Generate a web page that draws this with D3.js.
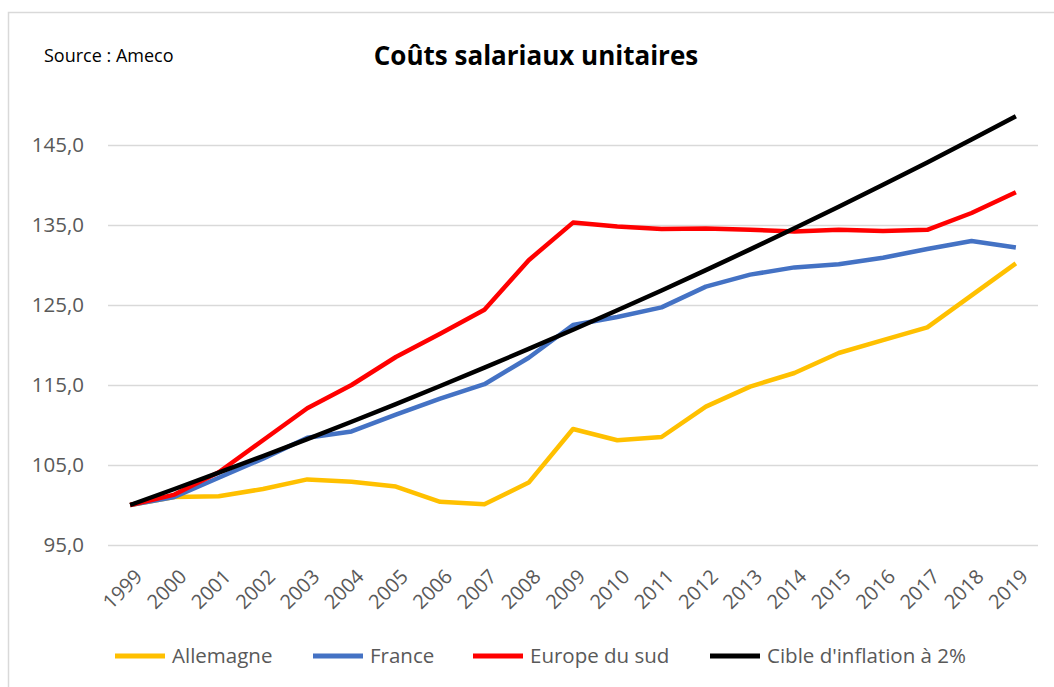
<!DOCTYPE html>
<html>
<head>
<meta charset="utf-8">
<script src="https://cdn.jsdelivr.net/npm/d3@7"></script>
<style>
  body { margin: 0; background: #fff; }
  svg { display: block; }
</style>
</head>
<body>
<div id="chart"></div>
<script>
const years = ['1999', '2000', '2001', '2002', '2003', '2004', '2005', '2006', '2007', '2008', '2009',
  '2010', '2011', '2012', '2013', '2014', '2015', '2016', '2017', '2018', '2019'];
const allemagne = [100, 101.0, 101.1, 102.0, 103.2, 102.9, 102.3, 100.4, 100.1, 102.8, 109.5,
  108.1, 108.5, 112.3, 114.8, 116.5, 119.0, 120.6, 122.2, 126.2, 130.2];
const france = [100, 101.0, 103.4, 105.8, 108.4, 109.2, 111.3, 113.3, 115.1, 118.4, 122.5,
  123.5, 124.7, 127.3, 128.8, 129.7, 130.1, 130.9, 132.0, 133.0, 132.2];
const europeSud = [100, 101.3, 104.1, 108.1, 112.1, 115.0, 118.5, 121.4, 124.4, 130.6, 135.3,
  134.8, 134.5, 134.55, 134.4, 134.2, 134.4, 134.25, 134.4, 136.5, 139.1];
const cible = [100, 102.0, 104.04, 106.12, 108.24, 110.41, 112.62, 114.87, 117.17, 119.51, 121.9,
  124.34, 126.82, 129.36, 131.95, 134.59, 137.28, 140.02, 142.82, 145.68, 148.59];
const yTicks = [95, 105, 115, 125, 135, 145];

const series = [
  { name: 'Allemagne', values: allemagne, color: '#FFC000' },
  { name: 'France', values: france, color: '#4472C4' },
  { name: 'Europe du sud', values: europeSud, color: '#FF0000' },
  { name: "Cible d'inflation à 2%", values: cible, color: '#000000' },
];

const W = 1054;
const H = 687;
const font = "'Open Sans', 'Noto Sans', sans-serif";
const textGrey = '#595959';

const svg = d3.select('#chart').append('svg')
  .attr('width', W)
  .attr('height', H);

// outer frame (right and bottom edges fall outside the picture)
svg.append('rect')
  .attr('x', 8.5).attr('y', 12.5)
  .attr('width', 1100).attr('height', 700)
  .attr('fill', 'none')
  .attr('stroke', '#d9d9d9')
  .attr('stroke-width', 1.5);

const x = d3.scalePoint()
  .domain(years)
  .range([108, 1038])
  .padding(0.5);

const y = d3.scaleLinear()
  .domain([95, 145])
  .range([545, 145]);

// y axis + gridlines
const yAxis = svg.append('g')
  .attr('transform', 'translate(108,0)')
  .call(d3.axisLeft(y)
    .tickValues(yTicks)
    .tickSize(-(1038 - 108))
    .tickPadding(24)
    .tickFormat((d) => d.toFixed(1).replace('.', ',')));
yAxis.select('.domain').remove();
yAxis.selectAll('line').attr('stroke', '#d9d9d9').attr('stroke-width', 1.5);
yAxis.selectAll('text')
  .attr('fill', textGrey)
  .style('font-family', font)
  .style('font-size', '20.5px');

// x axis
const xAxis = svg.append('g')
  .attr('transform', 'translate(0,545)')
  .call(d3.axisBottom(x).tickSize(0));
xAxis.select('.domain').remove();
xAxis.selectAll('text')
  .attr('fill', textGrey)
  .style('font-family', font)
  .style('font-size', '20px')
  .attr('text-anchor', 'end')
  .attr('dy', null)
  .attr('y', 0)
  .attr('transform', 'translate(13,33) rotate(-45)');

// lines
const line = d3.line()
  .x((d, i) => x(years[i]))
  .y((d) => y(d));

svg.append('g').selectAll('path')
  .data(series)
  .enter().append('path')
  .attr('d', (d) => line(d.values))
  .attr('fill', 'none')
  .attr('stroke', (d) => d.color)
  .attr('stroke-width', 4.5)
  .attr('stroke-linejoin', 'round');

// title and source
svg.append('text')
  .attr('x', 536).attr('y', 65)
  .attr('text-anchor', 'middle')
  .style('font-family', font)
  .style('font-weight', 'bold')
  .style('font-size', '26px')
  .attr('fill', '#000')
  .text('Coûts salariaux unitaires');

svg.append('text')
  .attr('x', 44).attr('y', 62)
  .style('font-family', font)
  .style('font-size', '18px')
  .attr('fill', '#000')
  .text('Source : Ameco');

// legend
const legendX = [115, 313, 473, 710];
const legend = svg.append('g').selectAll('g')
  .data(series)
  .enter().append('g')
  .attr('transform', (d, i) => `translate(${legendX[i]},656)`);
legend.append('line')
  .attr('x1', 0).attr('x2', 50)
  .attr('stroke', (d) => d.color)
  .attr('stroke-width', 5);
legend.append('text')
  .attr('x', 57).attr('y', 0)
  .attr('dy', '0.35em')
  .attr('fill', textGrey)
  .style('font-family', font)
  .style('font-size', '20.5px')
  .text((d) => d.name);
</script>
</body>
</html>
